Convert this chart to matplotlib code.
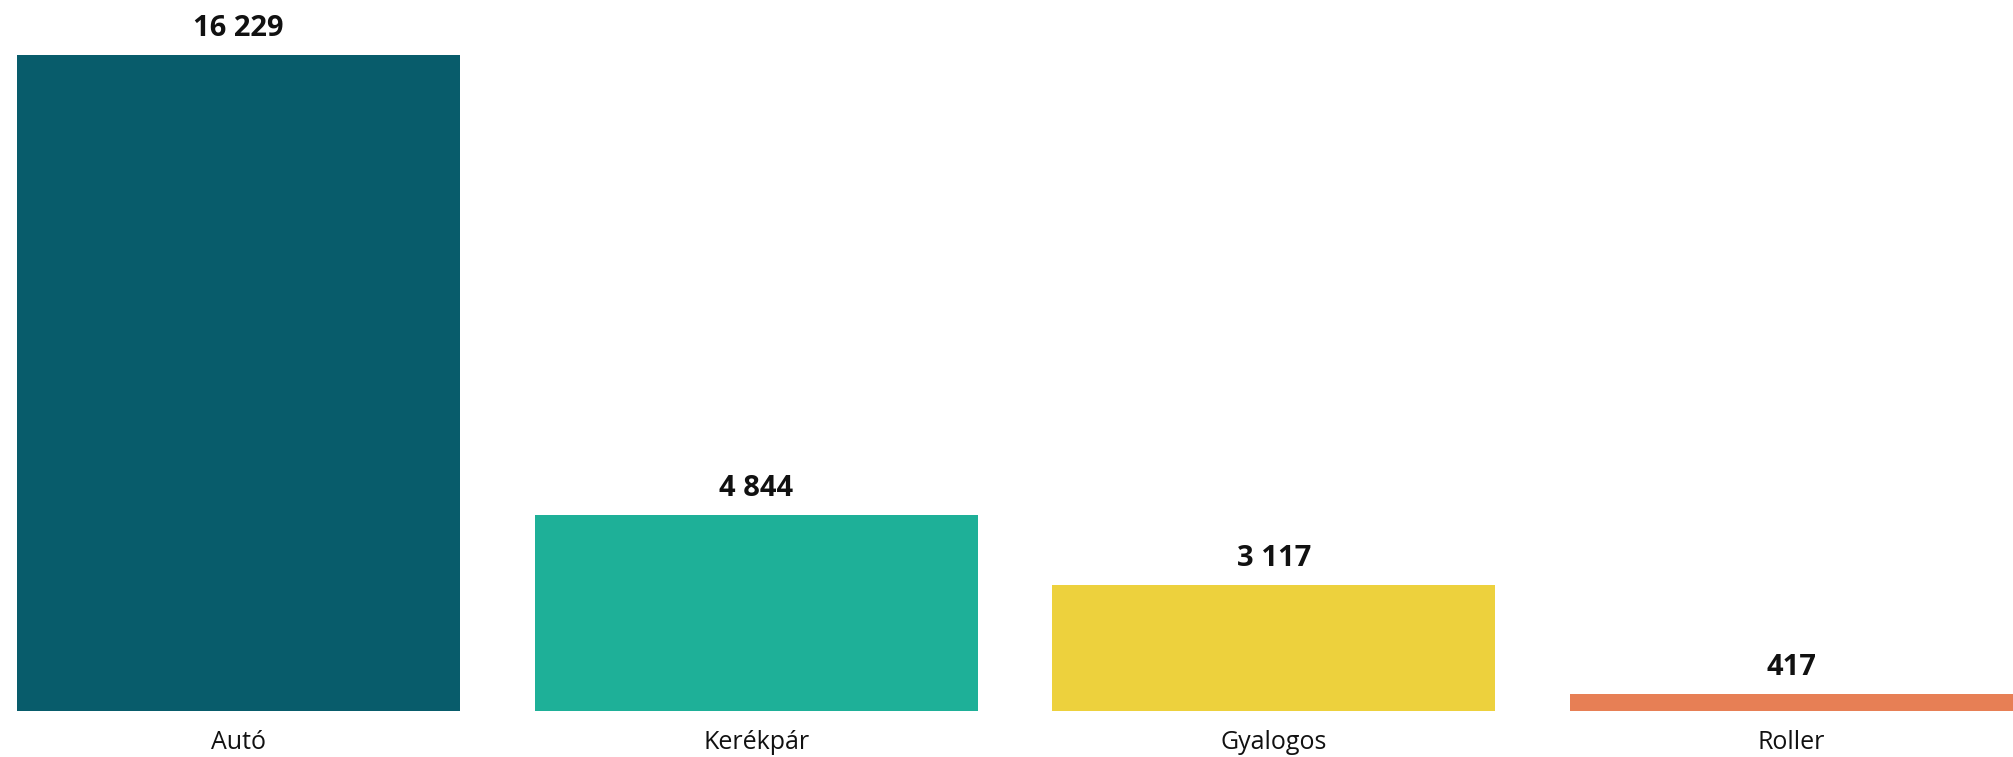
import matplotlib.pyplot as plt

plt.rcParams['font.family'] = ['Open Sans', 'DejaVu Sans']

categories = ["Autó", "Kerékpár", "Gyalogos", "Roller"]
values = [16229, 4844, 3117, 417]
labels = ["16 229", "4 844", "3 117", "417"]
colors = ["#085C6B", "#1EB098", "#EDD13D", "#E77F55"]

W, H = 2013, 757
fig = plt.figure(figsize=(W / 100, H / 100), dpi=100)
ax = fig.add_axes([17 / W, 46 / H, 1 - 17 / W, 656 / H])

width = 0.857
x = range(len(categories))
ax.bar(x, values, width=width, color=colors)

for xi, v, lab in zip(x, values, labels):
    ax.annotate(lab, (xi, v), xytext=(0, 14), textcoords="offset points",
                ha="center", va="baseline", fontsize=21, fontweight="bold",
                color="#111111", annotation_clip=False)

ax.set_xlim(-width / 2, len(categories) - 1 + width / 2)
ax.set_ylim(0, max(values))
ax.set_xticks(list(x))
ax.set_xticklabels(categories, fontsize=18, color="#111111")
ax.tick_params(axis="x", length=0, pad=14)
ax.set_yticks([])
for s in ax.spines.values():
    s.set_visible(False)

fig.savefig("out.png", dpi=100)
